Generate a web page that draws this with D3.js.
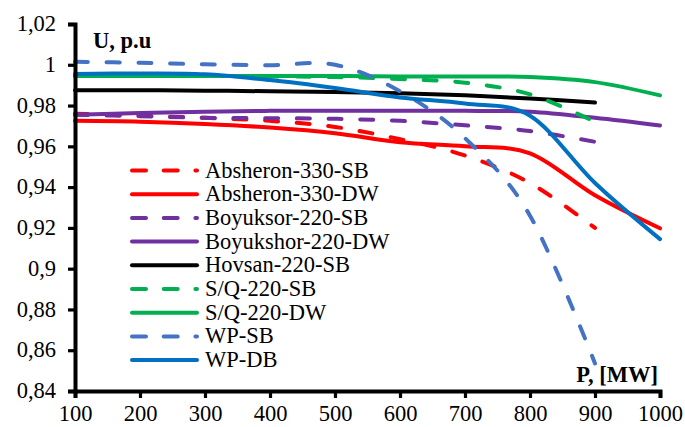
<!DOCTYPE html>
<html><head><meta charset="utf-8">
<script src="https://cdn.jsdelivr.net/npm/d3@7"></script>
<style>
html,body{margin:0;padding:0;background:#fff;}
svg{display:block;font-family:"Liberation Serif","Times New Roman",serif;}
</style></head>
<body><svg id="chart" width="685" height="427"></svg>
<script>
const P = [100,200,300,400,500,600,700,800,900,1000];
const xTicks = [100,200,300,400,500,600,700,800,900,1000];
const yTicks = [0.84,0.86,0.88,0.90,0.92,0.94,0.96,0.98,1.00,1.02];
const yTickLabels = ["0,84","0,86","0,88","0,9","0,92","0,94","0,96","0,98","1","1,02"];

const seriesNames = ["Absheron-330-SB","Absheron-330-DW","Boyuksor-220-SB","Boyukshor-220-DW","Hovsan-220-SB","S/Q-220-SB","S/Q-220-DW","WP-SB","WP-DB"];
const seriesColors = ["#FF0000","#FF0000","#7030A0","#7030A0","#000000","#00B050","#00B050","#4472C4","#0070C0"];
const seriesDashed = [true,false,true,false,false,true,false,true,false];

const absheronSB = [0.976,0.975,0.974,0.9725,0.9695,0.9635,0.9555,0.942,0.920];
const absheronDW = [0.9725,0.9721,0.971,0.9692,0.9664,0.962,0.960,0.9566,0.936,0.9198];
const boyuksorSB = [0.9755,0.9748,0.974,0.9738,0.9735,0.9725,0.9703,0.9675,0.9622];
const boyukshorDW = [0.9755,0.9763,0.977,0.9774,0.9775,0.9775,0.9774,0.977,0.974,0.9702];
const hovsanSB = [0.9875,0.9875,0.9873,0.987,0.9866,0.986,0.985,0.9835,0.9815];
const sqSB = [0.9945,0.9945,0.9945,0.9943,0.994,0.993,0.9912,0.9855,0.972];
const sqDW = [0.9945,0.9945,0.9945,0.9945,0.9945,0.9943,0.9942,0.994,0.9915,0.985];
const wpSB = [1.0015,1.001,1.0002,0.9998,1.0,0.987,0.964,0.926,0.8535];
const wpDB = [0.9955,0.9957,0.9953,0.9925,0.9886,0.984,0.981,0.975,0.942,0.9145];

const seriesValues = [absheronSB,absheronDW,boyuksorSB,boyukshorDW,hovsanSB,sqSB,sqDW,wpSB,wpDB];

const svg = d3.select("#chart");
const x = d3.scaleLinear().domain([100,1000]).range([75,660]);
const y = d3.scaleLinear().domain([0.84,1.02]).range([391,24]);
const FS = 22.5;

// series
const line = d3.line().x(d=>x(d[0])).y(d=>y(d[1])).curve(d3.curveCardinal.tension(0));
seriesValues.forEach((vals,i)=>{
  const pts = vals.map((v,j)=>[P[j],v]);
  svg.append("path").datum(pts)
    .attr("d",line)
    .attr("fill","none")
    .attr("stroke",seriesColors[i])
    .attr("stroke-width",4)
    .attr("stroke-linecap","round")
    .attr("stroke-linejoin","round")
    .attr("stroke-dasharray",seriesDashed[i]?"13,18.7":null);
});

// axes
const yAxis = svg.append("g").attr("transform","translate(75,0)")
  .call(d3.axisLeft(y).tickValues(yTicks).tickSizeOuter(0).tickSize(7).tickPadding(12)
        .tickFormat((d,i)=>yTickLabels[i]));
const xAxis = svg.append("g").attr("transform","translate(0,391)")
  .call(d3.axisBottom(x).tickValues(xTicks).tickSizeOuter(0).tickSize(7).tickPadding(6)
        .tickFormat(d=>String(d)));
[yAxis,xAxis].forEach(g=>{
  g.select(".domain").attr("stroke","#000").attr("stroke-width",4);
  g.selectAll(".tick line").attr("stroke","#000").attr("stroke-width",3.2);
  g.selectAll(".tick text").attr("fill","#000").style("font-size",FS+"px")
    .style("font-family","'Liberation Serif','Times New Roman',serif");
});
yAxis.selectAll(".tick text").attr("dy","0.3em");
xAxis.selectAll(".tick text").attr("dy","0.75em");

// axis titles
svg.append("text").attr("x",93).attr("y",48).attr("font-size",FS).attr("font-weight","bold").text("U, p.u");
svg.append("text").attr("x",658).attr("y",382).attr("text-anchor","end").attr("font-size",FS).attr("font-weight","bold").text("P, [MW]");

// legend
const lg = svg.append("g");
seriesNames.forEach((name,i)=>{
  const ly = 170.5 + i*23.7;
  lg.append("line").attr("x1",132).attr("x2",197).attr("y1",ly).attr("y2",ly)
    .attr("stroke",seriesColors[i]).attr("stroke-width",4).attr("stroke-linecap","round")
    .attr("stroke-dasharray",seriesDashed[i]?"14,17.7":null);
  lg.append("text").attr("x",205).attr("y",ly+7).attr("font-size",FS).attr("fill","#000").text(name);
});
</script>
</body></html>
